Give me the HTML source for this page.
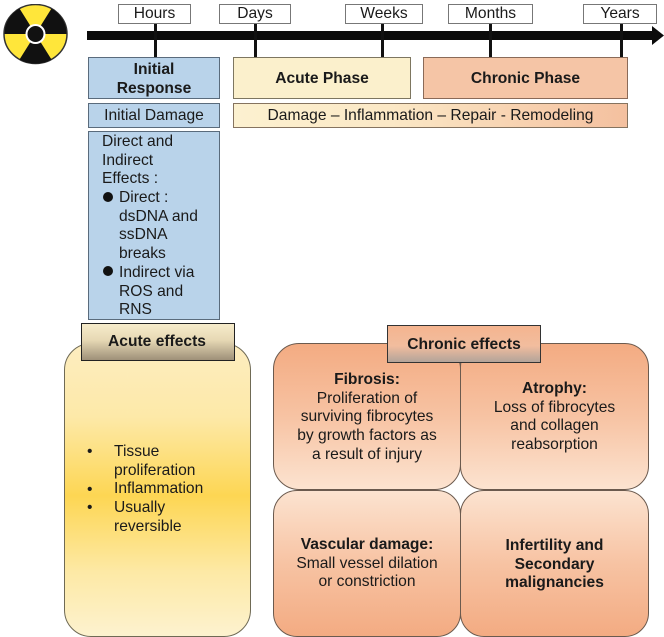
<!DOCTYPE html>
<html><head><meta charset="utf-8">
<style>
html,body{margin:0;padding:0;background:#fff}
#p{position:relative;width:664px;height:637px;overflow:hidden;background:#fff;font-family:"Liberation Sans",sans-serif;color:#1a1a1a;font-size:15.6px;filter:blur(.35px)}
#p div{position:absolute;box-sizing:border-box}
.t{border:1px solid #777;background:#fff;text-align:center;height:20px;top:4px;line-height:18px}
.k{background:#111;width:3px;top:24px;height:33px}
.c{display:flex;align-items:center;justify-content:center;text-align:center}
.b{border:1.5px solid #5a6b7c;background:#b9d3ea}
.y{border:1.5px solid #7d7660;background:#fbf0cc}
.o{border:1.5px solid #8a6a58;background:#f5c5a6}
.l{white-space:nowrap;line-height:18.7px}
.q{border:1.5px solid #6b5a4e;text-align:center;line-height:18.7px;white-space:nowrap}
</style></head><body>
<div id="p">
<svg style="position:absolute;left:3px;top:4px" width="66" height="61" viewBox="0 0 66 61">
<ellipse cx="32.5" cy="30" rx="31.5" ry="29.5" fill="#ffe63a" stroke="#333" stroke-width="1.5"/>
<path d="M32.5 30L16.5 4.500A31 29 0 0 0 1.500 30Z M32.500 30L63.500 30A31 29 0 0 0 48.500 4.500Z M32.500 30L16.500 55.500A31 29 0 0 0 48.500 55.500Z" fill="#111"/>
<circle cx="32.5" cy="30" r="10" fill="#fff"/>
<circle cx="32.5" cy="30" r="8" fill="#111"/>
</svg>
<div style="left:87px;top:31px;width:568px;height:9px;background:#0b0b0b"></div>
<svg style="position:absolute;left:652px;top:26px" width="12" height="19"><polygon points="0,0 12,9.5 0,19" fill="#0b0b0b"/></svg>
<div class="k" style="left:154px"></div><div class="k" style="left:254px"></div><div class="k" style="left:381px"></div><div class="k" style="left:489px"></div><div class="k" style="left:620px"></div>
<div class="t" style="left:118px;width:73px">Hours</div>
<div class="t" style="left:219px;width:72px">Days</div>
<div class="t" style="left:345px;width:78px">Weeks</div>
<div class="t" style="left:448px;width:85px">Months</div>
<div class="t" style="left:583px;width:74px">Years</div>

<div class="c b" style="left:88px;top:57px;width:132px;height:42px;font-weight:bold;line-height:19px;padding-top:1px">Initial<br>Response</div>
<div class="c y" style="left:233px;top:57px;width:178px;height:42px;font-weight:bold;padding-top:2px">Acute Phase</div>
<div class="c o" style="left:423px;top:57px;width:205px;height:42px;font-weight:bold;padding-top:2px">Chronic Phase</div>
<div class="c b" style="left:88px;top:103px;width:132px;height:25px">Initial Damage</div>
<div class="c" style="left:233px;top:103px;width:395px;height:25px;border:1.5px solid #85735f;background:linear-gradient(90deg,#fcf1d0 0%,#fbe8c6 40%,#f4c09f 100%)">Damage – Inflammation – Repair - Remodeling</div>

<div class="b" style="left:88px;top:131px;width:132px;height:189px"></div>
<div class="l" style="left:102px;top:133px">Direct and<br>Indirect<br>Effects :</div>
<div class="l" style="left:119px;top:189px">Direct :<br>dsDNA and<br>ssDNA<br>breaks<br>Indirect via<br>ROS and<br>RNS</div>
<div style="left:103px;top:192px;width:10px;height:10px;border-radius:50%;background:#111"></div>
<div style="left:103px;top:266px;width:10px;height:10px;border-radius:50%;background:#111"></div>

<div style="left:64px;top:343px;width:187px;height:294px;border:1.5px solid #6f6a55;border-radius:27px;background:linear-gradient(180deg,#fdedc0 0%,#fde9a8 25%,#fdd653 52%,#fde9a5 78%,#fdf2cf 100%)"></div>
<div class="c" style="left:81px;top:323px;width:154px;height:38px;border:1.5px solid #222;font-weight:bold;padding-right:2px;background:linear-gradient(180deg,#f7eccb 0%,#e6d8b4 45%,#9e9078 100%)">Acute effects</div>
<div class="l" style="left:87px;top:443px">•</div>
<div class="l" style="left:87px;top:481px">•</div>
<div class="l" style="left:87px;top:499px">•</div>
<div class="l" style="left:114px;top:443px">Tissue<br>proliferation<br>Inflammation<br>Usually<br>reversible</div>

<div class="q" style="left:273px;top:343px;width:188px;height:147px;border-radius:26px;background:linear-gradient(180deg,#f3ab82 0%,#f7c3a3 50%,#fce3d0 100%);padding-top:27px"><b>Fibrosis:</b><br>Proliferation of<br>surviving fibrocytes<br>by growth factors as<br>a result of injury</div>
<div class="q" style="left:460px;top:343px;width:189px;height:147px;border-radius:24px;background:linear-gradient(180deg,#f3ab82 0%,#f7c3a3 50%,#fce3d0 100%);padding-top:36px"><b>Atrophy:</b><br>Loss of fibrocytes<br>and collagen<br>reabsorption</div>
<div class="q" style="left:273px;top:490px;width:188px;height:147px;border-radius:24px;background:linear-gradient(180deg,#fce3d0 0%,#f7c3a3 50%,#f3ab82 100%);padding-top:45px"><b>Vascular damage:</b><br>Small vessel dilation<br>or constriction</div>
<div class="q" style="left:460px;top:490px;width:189px;height:147px;border-radius:24px;background:linear-gradient(180deg,#fce3d0 0%,#f7c3a3 50%,#f3ab82 100%);padding-top:46px;font-weight:bold">Infertility and<br>Secondary<br>malignancies</div>
<div class="c" style="left:387px;top:325px;width:154px;height:38px;border:1.5px solid #333;font-weight:bold;padding-top:2px;background:linear-gradient(180deg,#f4b48f 0%,#f2bd9e 55%,#b3a49a 100%)">Chronic effects</div>
</div>
</body></html>
